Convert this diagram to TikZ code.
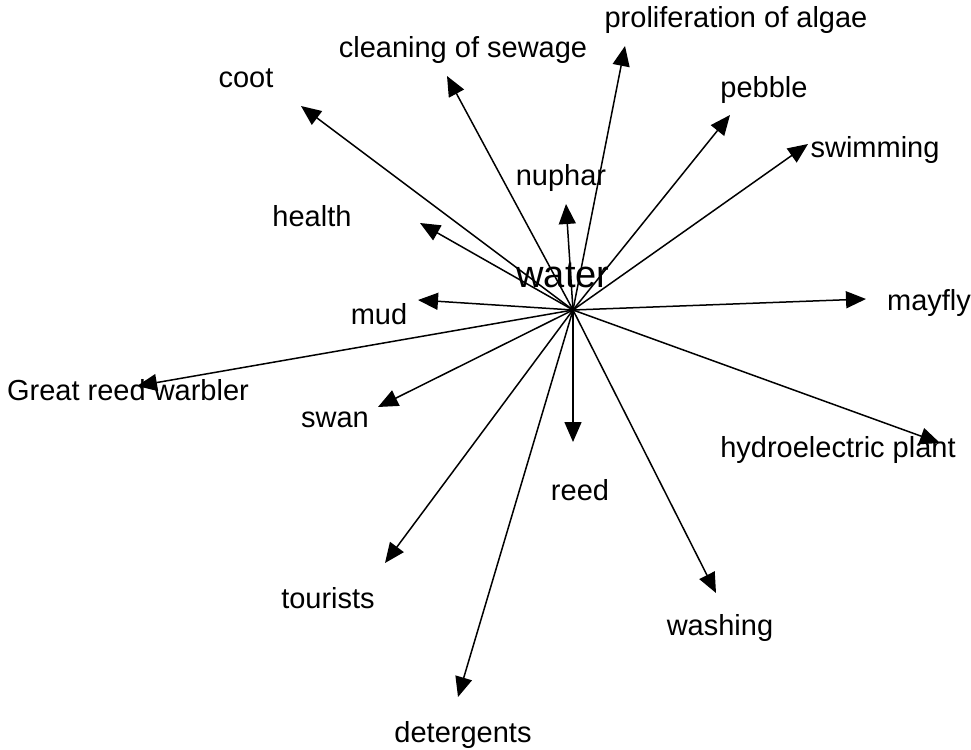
\documentclass[tikz,border=0pt]{standalone}
\usepackage{fontspec}
\setmainfont{Liberation Sans}
\usetikzlibrary{arrows.meta}
\begin{document}
\begin{tikzpicture}[x=1pt,y=-1pt,
  lbl/.style={inner sep=0pt,font=\fontsize{29}{33}\selectfont},
  big/.style={inner sep=0pt,font=\fontsize{38}{42}\selectfont},
  arr/.style={line width=1.5pt,-{Triangle[length=20pt,width=17pt]}}]
\useasboundingbox (0,0) rectangle (971,749);
\coordinate (c) at (573,310);
\node[big] (water) at (563,275) {water};
\node[lbl] (coot) at (246,78) {coot};
\node[lbl] (sewage) at (463,50) {cleaning of sewage};
\node[lbl] (algae) at (736,20) {proliferation of algae};
\node[lbl] (pebble) at (764,90) {pebble};
\node[lbl] (swim) at (875,150) {swimming};
\node[lbl] (nuphar) at (561,178) {nuphar};
\node[lbl] (health) at (312,216) {health};
\node[lbl] (mud) at (379,314) {mud};
\node[lbl] (mayfly) at (929,303) {mayfly};
\node[lbl] (grw) at (128,390) {Great reed warbler};
\node[lbl] (swan) at (335,420) {swan};
\node[lbl] (hydro) at (838,450) {hydroelectric plant};
\node[lbl] (reed) at (580,490) {reed};
\node[lbl] (tour) at (328,598) {tourists};
\node[lbl] (wash) at (720,628) {washing};
\node[lbl] (det) at (463,735) {detergents};
\coordinate (tcoot) at (301,106);
\coordinate (tsewage) at (447,76);
\coordinate (talgae) at (625,46);
\coordinate (tpebble) at (730,115);
\coordinate (tswim) at (808,144);
\coordinate (tnuphar) at (566,204);
\coordinate (thealth) at (420,223);
\coordinate (tmud) at (418,300);
\coordinate (tmayfly) at (866,299);
\coordinate (tgrw) at (137,386);
\coordinate (tswan) at (378,407);
\coordinate (treed) at (573,442);
\coordinate (thydro) at (940,443);
\coordinate (ttour) at (385,563);
\coordinate (twash) at (716,593);
\coordinate (tdet) at (458,697);
\foreach \t in {tcoot,tsewage,talgae,tpebble,tswim,tnuphar,thealth,tmud,tmayfly,tgrw,tswan,treed,thydro,ttour,twash,tdet}
  \draw[arr] (c) -- (\t);
\end{tikzpicture}
\end{document}
